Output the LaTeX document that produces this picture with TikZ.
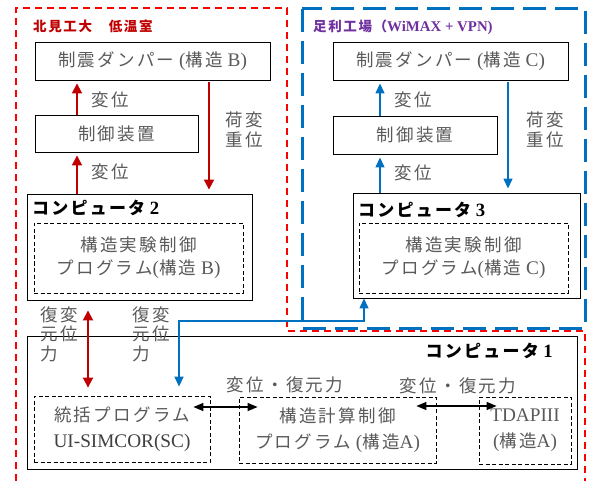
\documentclass[tikz,border=0pt]{standalone}
\usepackage{fontspec}
\setmainfont{Liberation Serif}[Scale=1.1]
\newfontfamily\jp{Noto Sans CJK JP}[LetterSpace=13]
\newfontfamily\jpt{Noto Sans CJK JP}[LetterSpace=12]
\usetikzlibrary{arrows.meta}
\definecolor{dred}{HTML}{C00000}
\definecolor{bred}{HTML}{FF0000}
\definecolor{mblue}{HTML}{0070C0}
\definecolor{purp}{HTML}{7030A0}
\definecolor{tgray}{HTML}{5A5A5A}
\newcommand\J[1]{{\jp #1}}
\newcommand\JT[1]{{\jpt #1}}
\begin{document}
\begin{tikzpicture}[x=1pt,y=-1pt,
  box/.style={draw=black, line width=0.9pt, inner sep=0pt, text=tgray,
    font=\fontsize{17.5}{23}\selectfont, align=center},
  dbox/.style={draw=black, line width=0.8pt, dash pattern=on 4pt off 2.5pt,
    inner sep=0pt, text=tgray, font=\fontsize{17.5}{23}\selectfont, align=center},
  lbl/.style={inner sep=0pt, text=tgray, font=\fontsize{17.5}{19.5}\selectfont, align=center},
  ctitle/.style={inner sep=0pt, text=black, font=\fontsize{17}{20}\selectfont\bfseries},
  redarr/.style={draw=dred, line width=1.8pt, -{Triangle[length=10pt,width=10pt]}},
  redarr2/.style={draw=dred, line width=1.8pt, {Triangle[length=10pt,width=10pt]}-{Triangle[length=10pt,width=10pt]}},
  bluearr/.style={draw=mblue, line width=1.4pt, -{Triangle[length=10pt,width=9pt]}},
  bluearr2/.style={draw=mblue, line width=1.4pt, {Triangle[length=10pt,width=9pt]}-{Triangle[length=10pt,width=9pt]}},
  blkarr2/.style={draw=black, line width=1.3pt, {Triangle[length=10pt,width=8pt]}-{Triangle[length=10pt,width=8pt]}}
]
\useasboundingbox (0,0) rectangle (594,481);
\fill[white] (0,0) rectangle (594,481);

% region outlines
\draw[bred, line width=1.6pt, dash pattern=on 7pt off 5pt]
  (16,481) -- (16,8) -- (287,8) -- (287,331) -- (585,331) -- (585,481);
\draw[mblue, line width=3pt, dash pattern=on 23pt off 9pt] (302,9) rectangle (585,328);

% region titles
\node[inner sep=0pt, anchor=west, text=dred, font=\fontsize{13.5}{15}\selectfont\bfseries] (tB) at (33,26) {\JT{北見工大　低温室}};
\node[inner sep=0pt, anchor=west, text=purp, font=\fontsize{13.5}{15}\selectfont\bfseries] (tC) at (313,27.5) {\JT{足利工場（}WiMAX + VPN)};

% left group
\node[box, minimum width=235pt, minimum height=38pt] (damperB) at (152.5,61) {\J{制震ダンパー} (\J{構造} B)};
\node[box, minimum width=163pt, minimum height=37pt] (ctrlB) at (116.5,133.5) {\J{制御装置}};
\node[box, minimum width=225pt, minimum height=106pt] (comp2) at (139.5,247) {};
\node[ctitle, anchor=west] (comp2t) at (32,208) {\J{コンピュータ} 2};
\node[dbox, minimum width=209pt, minimum height=70pt] (prog2) at (138.5,258) {\J{構造実験制御}\\\J{プログラム}(\J{構造} B)};

% right group
\node[box, minimum width=235pt, minimum height=38pt] (damperC) at (450.5,61) {\J{制震ダンパー} (\J{構造} C)};
\node[box, minimum width=164pt, minimum height=38pt] (ctrlC) at (415,135) {\J{制御装置}};
\node[box, minimum width=227pt, minimum height=105pt] (comp3) at (466.5,245.5) {};
\node[ctitle, anchor=west] (comp3t) at (358,210) {\J{コンピュータ} 3};
\node[dbox, minimum width=209pt, minimum height=70pt] (prog3) at (463.5,258) {\J{構造実験制御}\\\J{プログラム}(\J{構造} C)};

% computer 1
\node[box, minimum width=550pt, minimum height=133pt] (comp1) at (302,402.5) {};
\node[ctitle, anchor=east] (comp1t) at (553,351) {\J{コンピュータ} 1};
\node[dbox, minimum width=176pt, minimum height=66pt, font=\fontsize{17.5}{26}\selectfont] (main) at (122,429) {\J{統括プログラム}\\\textcolor{black!75}{UI-SIMCOR(SC)}};
\node[dbox, minimum width=197pt, minimum height=66pt, font=\fontsize{17.5}{26}\selectfont] (calc) at (337.5,430) {\J{構造計算制御}\\\J{プログラム} (\J{構造}A)};
\node[dbox, minimum width=92pt, minimum height=67pt, font=\fontsize{17.5}{26}\selectfont] (tdap) at (525,430.5) {TDAPIII\\(\J{構造}A)};

% labels
\node[lbl] (lb1) at (110,100) {\J{変位}};
\node[lbl] (lb2) at (110,172) {\J{変位}};
\node[lbl] (lb3) at (244,130) {\J{荷変}\\\J{重位}};
\node[lbl] (lc1) at (413,100) {\J{変位}};
\node[lbl] (lc2) at (413,173) {\J{変位}};
\node[lbl] (lc3) at (545,130) {\J{荷変}\\\J{重位}};
\node[lbl, align=left] (la1) at (59,334) {\J{復変}\\\J{元位}\\\J{力}};
\node[lbl, align=left] (la2) at (151,334) {\J{復変}\\\J{元位}\\\J{力}};
\node[lbl] (ld1) at (285,385) {\J{変位・復元力}};
\node[lbl] (ld2) at (458,386) {\J{変位・復元力}};

% coordinates for vertical connector positions
\coordinate (xr1) at (77,0);
\coordinate (xr2) at (209,0);
\coordinate (xb1) at (380,0);
\coordinate (xb2) at (508,0);
\coordinate (xr3) at (88,0);
\coordinate (bendA) at (364,321);
\coordinate (bendB) at (179,321);

% red arrows
\draw[redarr, shorten >=3pt] (ctrlB.north -| xr1) -- (damperB.south -| xr1);
\draw[redarr, shorten >=3pt] (comp2.north -| xr1) -- (ctrlB.south -| xr1);
\draw[redarr, shorten <=2pt, shorten >=4pt] (damperB.south -| xr2) -- (comp2.north -| xr2);
\draw[redarr2, shorten <=10pt, shorten >=8pt] (comp2.south -| xr3) -- (main.north -| xr3);

% blue arrows
\draw[bluearr, shorten >=3pt] (ctrlC.north -| xb1) -- (damperC.south -| xb1);
\draw[bluearr, shorten >=3pt] (comp3.north -| xb1) -- (ctrlC.south -| xb1);
\draw[bluearr, shorten <=2pt, shorten >=4pt] (damperC.south -| xb2) -- (comp3.north -| xb2);
\draw[bluearr2, shorten >=9pt] (comp3.south -| bendA) -- (bendA) -- (bendB) -- (main.north -| bendB);

% black double arrows
\draw[blkarr2] ([shift={(-17,-22)}]main.east) -- ([shift={(19,-23)}]calc.west);
\draw[blkarr2] ([shift={(-20,-24)}]calc.east) -- ([shift={(18,-24.5)}]tdap.west);
\end{tikzpicture}
\end{document}
